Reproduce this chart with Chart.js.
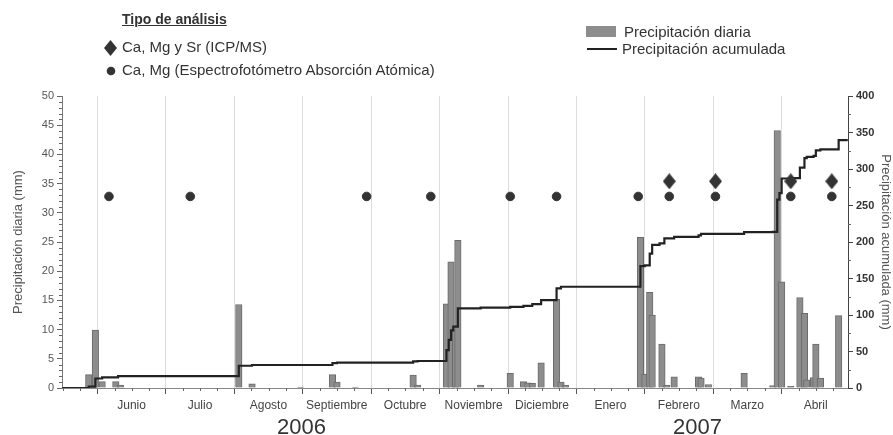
<!DOCTYPE html>
<html>
<head>
<meta charset="utf-8">
<script src="https://cdn.jsdelivr.net/npm/chart.js@4.4.1/dist/chart.umd.min.js"></script>
<style>
  body { margin: 0; background: #fff; }
  #wrap { position: relative; width: 893px; height: 435px; font-family: "Liberation Sans", Arial, sans-serif; color: #333; }
  .lg { position: absolute; white-space: nowrap; font-size: 15px; line-height: 18px; }
</style>
</head>
<body>
<div id="wrap">
  <canvas id="grafico" width="893" height="435"></canvas>

  <!-- leyenda izquierda -->
  <div class="lg" style="left:122px;top:10px;font-size:14px;font-weight:bold;text-decoration:underline;">Tipo de análisis</div>
  <svg style="position:absolute;left:104px;top:40px" width="13" height="16"><polygon points="6.5,0 13,8 6.5,16 0,8" fill="#333"/></svg>
  <div class="lg" style="left:122px;top:38px;">Ca, Mg y Sr (ICP/MS)</div>
  <svg style="position:absolute;left:106px;top:66px" width="10" height="10"><circle cx="5" cy="5" r="4.3" fill="#333"/></svg>
  <div class="lg" style="left:122px;top:61px;">Ca, Mg (Espectrofotómetro Absorción Atómica)</div>

  <!-- leyenda derecha -->
  <div style="position:absolute;left:586px;top:26px;width:30px;height:11px;background:#8d8d8d;"></div>
  <div class="lg" style="left:624px;top:23px;">Precipitación diaria</div>
  <div style="position:absolute;left:587px;top:48px;width:30px;height:2px;background:#222;"></div>
  <div class="lg" style="left:622px;top:40px;">Precipitación acumulada</div>
</div>

<script>
// ---------------------------------------------------------------------------
// Datos

var meses = ['Junio', 'Julio', 'Agosto', 'Septiembre', 'Octubre', 'Noviembre',
             'Diciembre', 'Enero', 'Febrero', 'Marzo', 'Abril'];

var anios = ['2006', '2007'];

// precipitación diaria (mm)
var fechasDiaria = ['2006-05-28','2006-05-31','2006-06-03','2006-06-09','2006-06-11',
  '2006-08-03','2006-08-09','2006-08-31','2006-09-14','2006-09-16','2006-09-24',
  '2006-10-20','2006-10-22','2006-11-04','2006-11-06','2006-11-08','2006-11-09','2006-11-19',
  '2006-12-02','2006-12-08','2006-12-10','2006-12-12','2006-12-16','2006-12-23','2006-12-25','2006-12-27',
  '2007-01-30','2007-02-01','2007-02-03','2007-02-04','2007-02-08','2007-02-10','2007-02-13',
  '2007-02-23','2007-02-24','2007-02-27','2007-03-15','2007-03-28','2007-03-30',
  '2007-04-01','2007-04-05','2007-04-09','2007-04-11','2007-04-12','2007-04-15','2007-04-16','2007-04-18','2007-04-26'];
var precDiaria = [2.3, 9.9, 1.1, 1.1, 0.5,
  14.3, 0.7, 0.15, 2.3, 1.0, 0.15,
  2.2, 0.5, 14.4, 21.6, 10, 25.3, 0.5,
  2.5, 1.1, 0.9, 0.8, 4.3, 15.2, 1.0, 0.5,
  25.8, 2.4, 16.4, 12.5, 7.5, 0.5, 1.9,
  1.9, 1.7, 0.6, 2.5, 0.4, 44.1,
  18.2, 0.3, 15.5, 12.8, 1.4, 1.8, 7.5, 1.7, 12.4];

// precipitación acumulada (mm)
var fechasAcum = ['2006-05-16','2006-05-28','2006-05-31','2006-06-03','2006-06-10',
  '2006-08-03','2006-08-09','2006-09-14','2006-09-16','2006-10-20','2006-10-22',
  '2006-11-04','2006-11-05','2006-11-06','2006-11-07','2006-11-09','2006-11-19',
  '2006-12-02','2006-12-08','2006-12-12','2006-12-16','2006-12-23','2006-12-25',
  '2007-01-30','2007-02-01','2007-02-03','2007-02-04','2007-02-07','2007-02-09','2007-02-13',
  '2007-02-23','2007-02-24','2007-03-15','2007-03-28','2007-03-30','2007-03-31',
  '2007-04-01','2007-04-05','2007-04-09','2007-04-11','2007-04-12','2007-04-15',
  '2007-04-16','2007-04-18','2007-04-26','2007-04-30'];
var precAcum = [0, 2, 13, 14.6, 16.4,
  30.5, 31.5, 34, 34.8, 36.5, 37,
  52, 66, 79, 84, 109, 110,
  111, 112.5, 115, 120.5, 136.5, 138.7,
  167, 168, 184, 196, 198, 205, 207,
  209, 211, 213.5, 214, 258, 267,
  287, 287.5, 302, 315, 316.5, 318,
  325.5, 327, 339.5, 339.5];

// muestreos: Ca, Mg (absorción atómica) y Ca, Mg, Sr (ICP/MS)
var fechasAA = ['2006-06-06','2006-07-12','2006-09-29','2006-10-28','2006-12-02','2006-12-23',
  '2007-01-29','2007-02-11','2007-03-02','2007-04-05','2007-04-23'];
var nivelAA = [32.8, 32.8, 32.8, 32.8, 32.8, 32.8, 32.8, 32.8, 32.8, 32.8, 32.8];
var fechasICP = ['2007-02-11','2007-03-02','2007-04-05','2007-04-23'];
var nivelICP = [35.4, 35.4, 35.4, 35.4];

// ---------------------------------------------------------------------------

// fecha -> posición en meses desde el 1 de junio de 2006 (cada mes mide lo mismo)
var diasMes = [31, 31, 28, 31, 30, 31, 30, 31, 31, 30, 31, 30, 31];
function pos(f) {
    var p = f.split('-').map(Number);
    return (p[0] - 2006) * 12 + (p[1] - 6) + (p[2] - 1) / diasMes[p[1]];
}
function puntos(fechas, valores) {
    return fechas.map(function (f, i) { return { x: pos(f), y: valores[i] }; });
}

// rombo algo más alto que ancho
var rombo = document.createElement('canvas');
rombo.width = 13; rombo.height = 16;
(function () {
    var c = rombo.getContext('2d');
    c.fillStyle = '#333';
    c.beginPath();
    c.moveTo(6.5, 0); c.lineTo(13, 8); c.lineTo(6.5, 16); c.lineTo(0, 8);
    c.closePath(); c.fill();
})();

// marcas menores y años
var extras = {
    id: 'extras',
    afterDraw: function (chart) {
        var ctx = chart.ctx, s = chart.scales, a = chart.chartArea, v;
        ctx.save();
        ctx.strokeStyle = '#666';
        ctx.lineWidth = 1;
        ctx.beginPath();
        for (v = -0.5; v < 11; v += 0.25) {
            if (v % 1 === 0) continue;
            var px = Math.round(s.x.getPixelForValue(v)) + 0.5;
            ctx.moveTo(px, a.bottom); ctx.lineTo(px, a.bottom + 3);
        }
        for (v = 1; v < 50; v++) {
            if (v % 5 === 0) continue;
            var py = Math.round(s.y.getPixelForValue(v)) + 0.5;
            ctx.moveTo(a.left, py); ctx.lineTo(a.left - 3, py);
        }
        for (v = 25; v < 400; v += 50) {
            var py2 = Math.round(s.y2.getPixelForValue(v)) + 0.5;
            ctx.moveTo(a.right, py2); ctx.lineTo(a.right + 3, py2);
        }
        ctx.stroke();

        ctx.fillStyle = '#333';
        ctx.font = '22px "Liberation Sans", Arial, sans-serif';
        ctx.textAlign = 'center';
        ctx.textBaseline = 'alphabetic';
        ctx.fillText(anios[0], s.x.getPixelForValue(2.98), 434);
        ctx.fillText(anios[1], s.x.getPixelForValue(8.77), 434);
        ctx.restore();
    }
};

var fuente = '"Liberation Sans", Arial, sans-serif';

var chartData = {
    datasets: [{
        type: 'bar',
        label: 'Precipitación diaria',
        data: puntos(fechasDiaria, precDiaria),
        yAxisID: 'y',
        backgroundColor: '#8d8d8d',
        borderColor: '#6b6b6b',
        borderWidth: 1,
        barThickness: 6.5,
        grouped: false,
        order: 3
    }, {
        type: 'line',
        label: 'Precipitación acumulada',
        data: puntos(fechasAcum, precAcum),
        yAxisID: 'y2',
        stepped: true,
        borderColor: '#222',
        borderWidth: 2.2,
        pointRadius: 0,
        fill: false,
        order: 2
    }, {
        type: 'line',
        label: 'Ca, Mg (Espectrofotómetro Absorción Atómica)',
        data: puntos(fechasAA, nivelAA),
        yAxisID: 'y',
        showLine: false,
        pointStyle: 'circle',
        pointRadius: 4.3,
        backgroundColor: '#333',
        borderColor: '#333',
        order: 1
    }, {
        type: 'line',
        label: 'Ca, Mg y Sr (ICP/MS)',
        data: puntos(fechasICP, nivelICP),
        yAxisID: 'y',
        showLine: false,
        pointStyle: rombo,
        backgroundColor: '#333',
        borderColor: '#333',
        order: 1
    }]
};

var chartOptions = {
    responsive: false,
    animation: false,
    layout: { padding: { top: 96, left: 0, right: 0, bottom: 0 } },
    plugins: { legend: { display: false }, tooltip: { enabled: false } },
    scales: {
        x: {
            type: 'linear',
            min: -0.52,
            max: 10.97,
            offset: false,
            afterFit: function (s) { s.height = 47; },
            afterBuildTicks: function (s) {
                s.ticks = meses.map(function (m, i) { return { value: i }; });
            },
            grid: { color: '#dcdcdc', tickColor: '#555', tickLength: 6, offset: false },
            border: { color: '#888' },
            ticks: {
                autoSkip: false,
                maxRotation: 0,
                labelOffset: 34,
                padding: 4,
                color: '#444',
                font: { family: fuente, size: 12 },
                callback: function (v, i) { return meses[i]; }
            }
        },
        y: {
            position: 'left',
            min: 0,
            max: 50,
            afterFit: function (s) { s.width = 62; },
            grid: { drawOnChartArea: false, tickColor: '#666', tickLength: 5 },
            border: { color: '#777' },
            ticks: { stepSize: 5, padding: 3, color: '#555', font: { family: fuente, size: 11 } },
            title: {
                display: true,
                text: 'Precipitación diaria (mm)',
                color: '#555',
                font: { family: fuente, size: 13 },
                padding: { top: 11, bottom: 0 }
            }
        },
        y2: {
            position: 'right',
            min: 0,
            max: 400,
            afterFit: function (s) { s.width = 45; },
            grid: { drawOnChartArea: false, tickColor: '#444', tickLength: 5 },
            border: { color: '#444' },
            ticks: { stepSize: 50, padding: 3, color: '#333', font: { family: fuente, size: 11, weight: 'bold' } },
            title: {
                display: true,
                text: 'Precipitación acumulada (mm)',
                color: '#555',
                font: { family: fuente, size: 13 },
                padding: { top: 0, bottom: 0 }
            }
        }
    }
};

var config = {
    type: 'bar',
    data: chartData,
    options: chartOptions,
    plugins: [extras]
};

var graficoPrecip = new Chart(document.getElementById('grafico'), config);
</script>
</body>
</html>
